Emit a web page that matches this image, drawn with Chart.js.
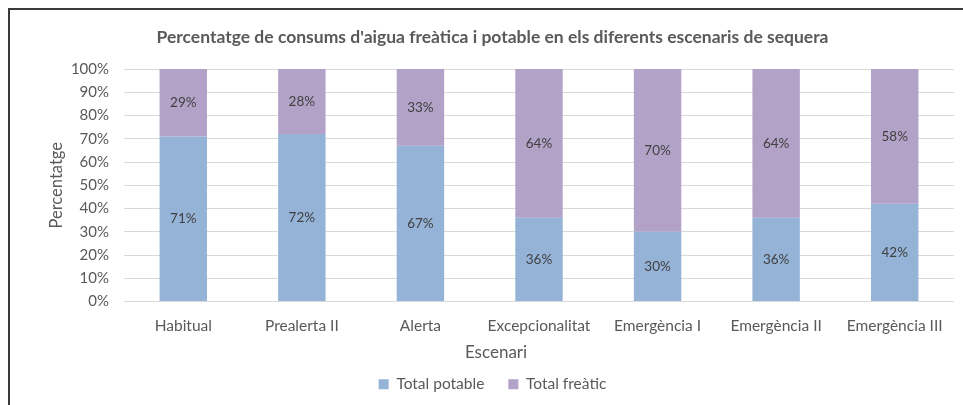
<!DOCTYPE html>
<html>
<head>
<meta charset="utf-8">
<script src="https://cdn.jsdelivr.net/npm/chart.js@4/dist/chart.umd.min.js"></script>
<style>
    html, body { margin: 0; padding: 0; background: #fff; }
    #wrap { position: absolute; left: 0; top: 0; width: 963px; height: 405px; }
</style>
</head>
<body>
<div id="wrap"><canvas id="chart" width="963" height="405"></canvas></div>
<script>
const scenarios = ['Habitual', 'Prealerta II', 'Alerta', 'Excepcionalitat', 'Emergència I', 'Emergència II', 'Emergència III'];
const potable = [71, 72, 67, 36, 30, 36, 42];
const freatic = [29, 28, 33, 64, 70, 64, 58];

const FONT = 'Lato, "Open Sans", sans-serif';
const GREY = '#595959';

// frame of the chart object (only left and top edges are visible)
const frame = {
    id: 'frame',
    beforeDraw(chart) {
        const { ctx } = chart;
        ctx.save();
        ctx.strokeStyle = '#3a3a3a';
        ctx.lineWidth = 2;
        ctx.beginPath();
        ctx.moveTo(9, 405);
        ctx.lineTo(9, 9);
        ctx.lineTo(963, 9);
        ctx.stroke();
        ctx.restore();
    }
};

// values written in the middle of each segment
const barLabels = {
    id: 'barLabels',
    afterDatasetsDraw(chart) {
        const { ctx } = chart;
        ctx.save();
        ctx.font = '13.5px ' + FONT;
        ctx.fillStyle = '#404040';
        ctx.textAlign = 'center';
        ctx.textBaseline = 'middle';
        chart.data.datasets.forEach((ds, i) => {
            chart.getDatasetMeta(i).data.forEach((bar, j) => {
                const { x, y, base } = bar.getProps(['x', 'y', 'base'], true);
                ctx.fillText(ds.data[j] + '%', x, (y + base) / 2);
            });
        });
        ctx.restore();
    }
};

// x axis title sits left of the plot centre, as in the original
const xTitle = {
    id: 'xTitle',
    afterDraw(chart) {
        const { ctx } = chart;
        ctx.save();
        ctx.font = '17px ' + FONT;
        ctx.fillStyle = GREY;
        ctx.textAlign = 'center';
        ctx.textBaseline = 'middle';
        ctx.fillText('Escenari', 496, chart.chartArea.bottom + 51);
        ctx.restore();
    }
};

new Chart(document.getElementById('chart'), {
    type: 'bar',
    data: {
        labels: scenarios,
        datasets: [
            { label: 'Total potable', data: potable, backgroundColor: '#95B3D7' },
            { label: 'Total freàtic', data: freatic, backgroundColor: '#B3A2C7' },
        ],
    },
    options: {
        responsive: false,
        animation: false,
        layout: { padding: { left: 31, right: 9, top: 0, bottom: 3 } },
        categoryPercentage: 1,
        barPercentage: 0.4,
        plugins: {
            title: {
                display: true,
                text: "Percentatge de consums d'aigua freàtica i potable en els diferents escenaris de sequera",
                color: GREY,
                font: { family: FONT, size: 17.5, weight: 'bold', lineHeight: 1.2 },
                padding: { top: 27, bottom: 21 },
            },
            legend: {
                position: 'bottom',
                labels: {
                    color: GREY,
                    font: { family: FONT, size: 15.5 },
                    usePointStyle: true,
                    pointStyle: 'rect',
                    boxWidth: 10,
                    boxHeight: 10,
                    padding: 24,
                },
            },
            tooltip: { enabled: false },
        },
        scales: {
            x: {
                stacked: true,
                grid: { display: false },
                border: { display: false },
                ticks: { color: GREY, font: { family: FONT, size: 15.5 }, padding: 7, maxRotation: 0 },
                afterFit(s) { s.height = 51; },
            },
            y: {
                stacked: true,
                min: 0,
                max: 100,
                grid: { color: '#D9D9D9', drawTicks: false },
                border: { display: false },
                ticks: {
                    stepSize: 10,
                    color: GREY,
                    font: { family: FONT, size: 15 },
                    padding: 15,
                    callback: v => v + '%',
                },
                title: {
                    display: true,
                    text: 'Percentatge',
                    color: GREY,
                    font: { family: FONT, size: 16.5, lineHeight: 1.2 },
                    padding: { top: 16, bottom: 0 },
                },
                afterFit(s) { s.width = 93; },
            },
        },
    },
    plugins: [frame, barLabels, xTitle],
});
</script>
</body>
</html>
